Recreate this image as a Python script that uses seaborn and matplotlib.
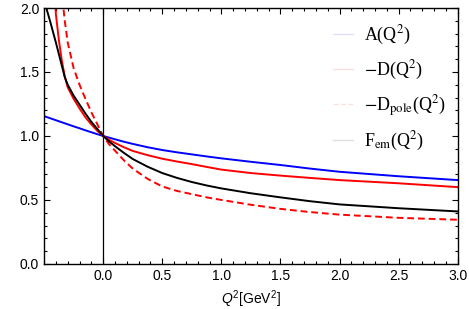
import numpy as np
import pandas as pd
import matplotlib
matplotlib.use("Agg")
import matplotlib.pyplot as plt
import seaborn as sns
from matplotlib.ticker import MultipleLocator, FixedLocator, FormatStrFormatter

# Q^2 grid (GeV^2) and curve values
q2 = [-0.5, -0.475, -0.45, -0.425, -0.4, -0.375, -0.35, -0.325, -0.3, -0.25, -0.2, -0.15, -0.1, -0.05,
      0.0, 0.05, 0.1, 0.175, 0.25, 0.375, 0.5, 0.625, 0.75, 0.875, 1.0, 1.25, 1.5, 1.75, 2.0, 2.5, 3.0]
A_vals = [1.155, 1.147, 1.139, 1.131, 1.123, 1.115, 1.107, 1.099, 1.091, 1.075, 1.06, 1.044, 1.029, 1.014,
          1.0, 0.987, 0.974, 0.955, 0.938, 0.912, 0.89, 0.872, 0.856, 0.84, 0.825, 0.798, 0.773, 0.745, 0.72, 0.685, 0.655]
D_vals = [3.5, 3.0, 2.65, 2.3, 1.95, 1.75, 1.59, 1.465, 1.38, 1.29, 1.215, 1.145, 1.09, 1.04,
          1.0, 0.97, 0.945, 0.912, 0.883, 0.85, 0.822, 0.80, 0.78, 0.758, 0.737, 0.71, 0.69, 0.672, 0.655, 0.63, 0.60]
Dpole_vals = [5.0, 4.4, 3.8, 3.3, 2.9, 2.5, 2.12, 1.9, 1.73, 1.53, 1.40, 1.29, 1.185, 1.092,
              1.0, 0.935, 0.885, 0.81, 0.745, 0.665, 0.605, 0.57, 0.545, 0.52, 0.5, 0.462, 0.43, 0.405, 0.385, 0.36, 0.345]
Fem_vals = [2.07, 1.98, 1.9, 1.815, 1.73, 1.64, 1.55, 1.46, 1.40, 1.315, 1.245, 1.175, 1.11, 1.055,
            1.0, 0.957, 0.92, 0.868, 0.82, 0.76, 0.71, 0.672, 0.64, 0.613, 0.59, 0.552, 0.52, 0.49, 0.465, 0.435, 0.41]

labels = [r"A(Q$^2$)", r"$-$D(Q$^2$)", r"$-$D$_{\mathrm{pole}}$(Q$^2$)", r"F$_{\mathrm{em}}$(Q$^2$)"]
series = [A_vals, D_vals, Dpole_vals, Fem_vals]

rows = []
for lab, vals in zip(labels, series):
    for x, y in zip(q2, vals):
        rows.append({"q2": x, "val": y, "curve": lab})
df = pd.DataFrame(rows)

plt.rcParams["mathtext.fontset"] = "custom"
plt.rcParams["mathtext.rm"] = "Liberation Sans"
plt.rcParams["mathtext.it"] = "Liberation Sans:italic"
plt.rcParams["font.family"] = ["Liberation Sans", "DejaVu Sans"]

fig = plt.figure(figsize=(4.69, 3.09), dpi=100)
ax = fig.add_axes([0.094, 0.146, 0.882, 0.828])

palette = {labels[0]: "#0000ff", labels[1]: "#ff0000", labels[2]: "#ff0000", labels[3]: "#000000"}
dashes = {labels[0]: "", labels[1]: "", labels[2]: (3.5, 2), labels[3]: ""}
sns.lineplot(data=df, x="q2", y="val", hue="curve", style="curve", palette=palette,
             dashes=dashes, linewidth=1.4, ax=ax, sort=False)

ax.axvline(0, color="black", linewidth=0.9, zorder=0)

ax.set_xlim(-0.5, 3.0)
ax.set_ylim(0, 2.0)
ax.xaxis.set_major_locator(FixedLocator([0, 0.5, 1.0, 1.5, 2.0, 2.5, 3.0]))
ax.xaxis.set_minor_locator(MultipleLocator(0.1))
ax.yaxis.set_major_locator(MultipleLocator(0.5))
ax.yaxis.set_minor_locator(MultipleLocator(0.1))
ax.xaxis.set_major_formatter(FormatStrFormatter("%.1f"))
ax.yaxis.set_major_formatter(FormatStrFormatter("%.1f"))
ax.tick_params(which="both", direction="in", top=True, right=True, labelsize=10, width=0.8)
ax.tick_params(which="major", length=4)
ax.tick_params(which="minor", length=2)
for s in ax.spines.values():
    s.set_linewidth(1.0)

ax.set_xlabel(r"$Q^2$[GeV$^2$]", fontsize=10, labelpad=4)
ax.set_ylabel("")

leg = ax.legend(loc="upper right", bbox_to_anchor=(1.01, 1.0), frameon=False,
                handlelength=1.1, handletextpad=0.6, labelspacing=0.62,
                prop={"family": "Liberation Serif", "size": 13, "math_fontfamily": "stix"})
for h in leg.get_lines():
    h.set_alpha(0.13)
    h.set_linewidth(1.0)

fig.savefig("out.png", dpi=100, facecolor="white")
